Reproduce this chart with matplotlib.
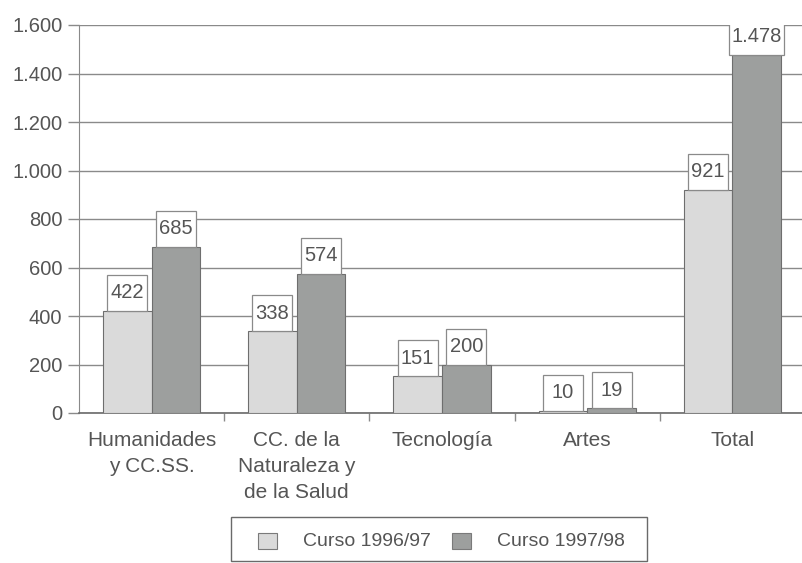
import numpy as np
import matplotlib.pyplot as plt
from matplotlib.patches import Rectangle
from matplotlib.ticker import FuncFormatter, FixedLocator

# datos (alumnos por rama)
categorias = ["Humanidades\ny CC.SS.", "CC. de la\nNaturaleza y\nde la Salud",
              "Tecnología", "Artes", "Total"]
curso_9697 = [422, 338, 151, 10, 921]
curso_9798 = [685, 574, 200, 19, 1478]
series = ["Curso 1996/97", "Curso 1997/98"]

plt.rcParams['font.family'] = ['Liberation Sans', 'DejaVu Sans']
gris_txt = '#555555'
gris_lin = '#8a8a8a'
col_claro = '#dadada'
col_oscuro = '#9d9f9e'


def miles(v, pos=None):
    return f"{int(v):,}".replace(",", ".")


W, H = 802, 563
fig = plt.figure(figsize=(W / 100, H / 100), dpi=100)
ax = fig.add_axes([79 / W, 1 - 413 / H, 726 / W, 388 / H])

x = np.arange(len(categorias))
w = 0.335
b1 = ax.bar(x - w / 2, curso_9697, w, color=col_claro, edgecolor='#6e6e6e',
            linewidth=0.8, zorder=3)
b2 = ax.bar(x + w / 2, curso_9798, w, color=col_oscuro, edgecolor='#6e6e6e',
            linewidth=0.8, zorder=3)

ax.set_xlim(-0.5, len(categorias) - 0.5)
ax.set_ylim(0, 1600)

# tamaño de las cajitas en píxeles -> unidades de datos
px_x = ax.transData.transform((1, 0))[0] - ax.transData.transform((0, 0))[0]
px_y = ax.transData.transform((0, 100))[1] - ax.transData.transform((0, 0))[1]
caja_h = 36 / px_y * 100
renderer = fig.canvas.get_renderer()

# etiquetas en cajitas encima de cada barra
for barras, vals in [(b1, curso_9697), (b2, curso_9798)]:
    for r, v in zip(barras, vals):
        xc = r.get_x() + r.get_width() / 2
        t = ax.text(xc, v + caja_h / 2, miles(v), ha='center', va='center',
                    fontsize=14.5, color=gris_txt, zorder=6)
        tw = t.get_window_extent(renderer).width
        caja_w = max(40, tw + 5) / px_x
        ax.add_patch(Rectangle((xc - caja_w / 2, v), caja_w, caja_h,
                               fc='white', ec='#8a8a8a', lw=0.9, zorder=5))

ax.set_yticks(np.arange(0, 1601, 200))
ax.yaxis.set_major_formatter(FuncFormatter(miles))
ax.yaxis.grid(True, color=gris_lin, linewidth=1.0, zorder=0)

ax.set_xticks(x)
ax.set_xticklabels(categorias, fontsize=15, color=gris_txt, linespacing=1.45)
ax.xaxis.set_minor_locator(FixedLocator(np.arange(0.5, len(categorias) - 0.5, 1)))
ax.tick_params(axis='x', which='major', length=0, pad=13)
ax.tick_params(axis='x', which='minor', length=6, color=gris_lin, width=1)
ax.tick_params(axis='y', length=8, color=gris_lin, width=1, pad=4,
               labelsize=14.5, labelcolor=gris_txt)

for s in ['top', 'right']:
    ax.spines[s].set_visible(False)
ax.spines['left'].set_color(gris_lin)
ax.spines['bottom'].set_color('#6a6a6a')
ax.spines['bottom'].set_linewidth(1.2)

# leyenda dibujada a mano en coordenadas de figura
fig.patches.append(Rectangle((231 / W, 1 - 561 / H), 416 / W, 44 / H,
                             transform=fig.transFigure, fc='white',
                             ec='#6a6a6a', lw=1.0))
yc = 1 - 541 / H
for x0, xt, col, txt in [(258, 303, col_claro, series[0]),
                         (452, 497, col_oscuro, series[1])]:
    fig.patches.append(Rectangle((x0 / W, yc - 8 / H), 19 / W, 16 / H,
                                 transform=fig.transFigure, fc=col,
                                 ec='#7a7a7a', lw=0.8))
    fig.text(xt / W, yc, txt, fontsize=14, color=gris_txt,
             ha='left', va='center')

fig.savefig('out.png', dpi=100)
